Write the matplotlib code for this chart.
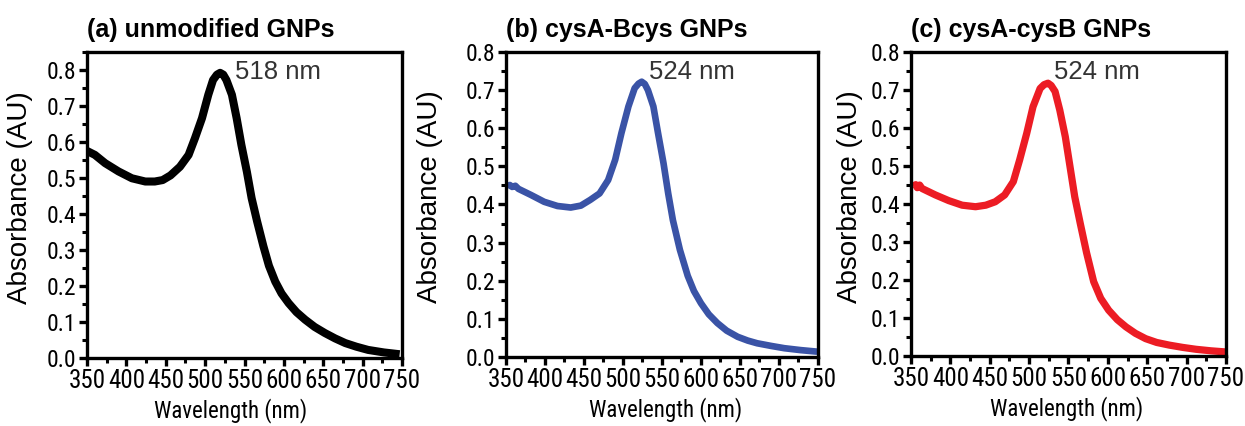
import matplotlib
matplotlib.use("Agg")
import matplotlib.pyplot as plt
from matplotlib.ticker import MultipleLocator, FormatStrFormatter

NARROW = ['Roboto Condensed', 'Fira Sans Condensed', 'DejaVu Sans']
ARIAL = ['Liberation Sans', 'DejaVu Sans']
plt.rcParams['font.family'] = NARROW

# (a) unmodified GNPs
wl_a = [350, 360, 373, 390, 407, 424, 436, 446, 456, 468, 479, 487, 496, 504,
        510, 515, 519, 523, 527, 534, 540, 546, 553, 559, 566, 574, 581, 589,
        597, 606, 616, 627, 639, 652, 665, 678, 692, 707, 727, 747]
abs_a = [0.575, 0.564, 0.541, 0.518, 0.499, 0.490, 0.490, 0.494, 0.507, 0.531,
         0.564, 0.610, 0.666, 0.731, 0.772, 0.787, 0.792, 0.787, 0.772, 0.731,
         0.666, 0.592, 0.517, 0.444, 0.379, 0.310, 0.256, 0.212, 0.179, 0.152,
         0.127, 0.106, 0.086, 0.069, 0.054, 0.041, 0.031, 0.022, 0.015, 0.010]

# (b) cysA-Bcys GNPs
wl_b = [352, 355, 358, 362, 366, 382, 399, 416, 433, 446, 458, 470, 481, 490,
        498, 507, 515, 520, 524, 528, 532, 539, 545, 552, 558, 564, 573, 583,
        591, 600, 610, 621, 633, 647, 660, 672, 690, 707, 728, 749]
abs_b = [0.448, 0.451, 0.446, 0.449, 0.441, 0.425, 0.407, 0.396, 0.392, 0.397,
         0.412, 0.429, 0.464, 0.517, 0.587, 0.657, 0.705, 0.717, 0.722, 0.716,
         0.700, 0.657, 0.587, 0.508, 0.429, 0.359, 0.281, 0.213, 0.173, 0.141,
         0.112, 0.089, 0.069, 0.053, 0.043, 0.036, 0.029, 0.023, 0.018, 0.014]

# (c) cysA-cysB GNPs
wl_c = [353, 356, 358, 361, 364, 381, 398, 415, 432, 445, 457, 469, 480, 488,
        497, 505, 514, 519, 524, 528, 533, 539, 546, 552, 558, 565, 573, 582,
        591, 601, 612, 623, 635, 648, 662, 678, 695, 712, 731, 750]
abs_c = [0.447, 0.451, 0.443, 0.450, 0.441, 0.424, 0.409, 0.397, 0.393, 0.397,
         0.406, 0.424, 0.459, 0.516, 0.586, 0.656, 0.704, 0.714, 0.718, 0.712,
         0.696, 0.647, 0.577, 0.498, 0.419, 0.349, 0.272, 0.196, 0.152, 0.121,
         0.096, 0.077, 0.060, 0.046, 0.036, 0.029, 0.023, 0.018, 0.014, 0.011]

titles = ['(a) unmodified GNPs', '(b) cysA-Bcys GNPs', '(c) cysA-cysB GNPs']
peaks = ['518 nm', '524 nm', '524 nm']
peak_pos = [(538, 0.794), (533, 0.747), (532, 0.747)]
colors = ['black', '#3a53a6', '#ec1c24']
ytops = [0.85, 0.8, 0.8]
lws = [5.8, 4.8, 5.2]

boxes = [[0.0699, 0.160, 0.253, 0.718],
         [0.4064, 0.162, 0.2506, 0.716],
         [0.7317, 0.164, 0.253, 0.714]]
ylab_x = [-0.171, -0.202, -0.152]
xlab_x = [0.457, 0.513, 0.495]

fig = plt.figure(figsize=(12.45, 4.26), dpi=100)

data = [(wl_a, abs_a), (wl_b, abs_b), (wl_c, abs_c)]
for i, (xs, ys) in enumerate(data):
    ax = fig.add_axes(boxes[i])
    ax.plot(xs, ys, color=colors[i], lw=lws[i], solid_capstyle='butt',
            solid_joinstyle='round')
    ax.set_xlim(350, 750)
    ax.set_ylim(0, ytops[i])
    ax.xaxis.set_major_locator(MultipleLocator(50))
    ax.xaxis.set_minor_locator(MultipleLocator(25))
    ax.yaxis.set_major_locator(MultipleLocator(0.1))
    ax.yaxis.set_minor_locator(MultipleLocator(0.05))
    ax.yaxis.set_major_formatter(FormatStrFormatter('%.1f'))
    for s in ax.spines.values():
        s.set_linewidth(2.4)
    ax.tick_params(which='major', direction='out', length=6, width=2.4)
    ax.tick_params(which='minor', direction='out', length=3.5, width=2.2)
    ax.tick_params(axis='x', labelsize=18, pad=2)
    ax.tick_params(axis='y', labelsize=17, pad=2)
    ax.set_xlabel('Wavelength (nm)', fontsize=16.5)
    ax.set_ylabel('Absorbance (AU)', fontsize=20, family=ARIAL)
    ax.xaxis.set_label_coords(xlab_x[i], -0.13)
    ax.yaxis.set_label_coords(ylab_x[i], 0.525)
    ax.text(0.0, 1.049, titles[i], transform=ax.transAxes, fontsize=18,
            fontweight='bold', family=ARIAL, ha='left', va='baseline')
    ax.text(peak_pos[i][0], peak_pos[i][1], peaks[i], fontsize=18.5,
            color='#333333', family=ARIAL, ha='left', va='center')

fig.savefig('out.png', dpi=100)
